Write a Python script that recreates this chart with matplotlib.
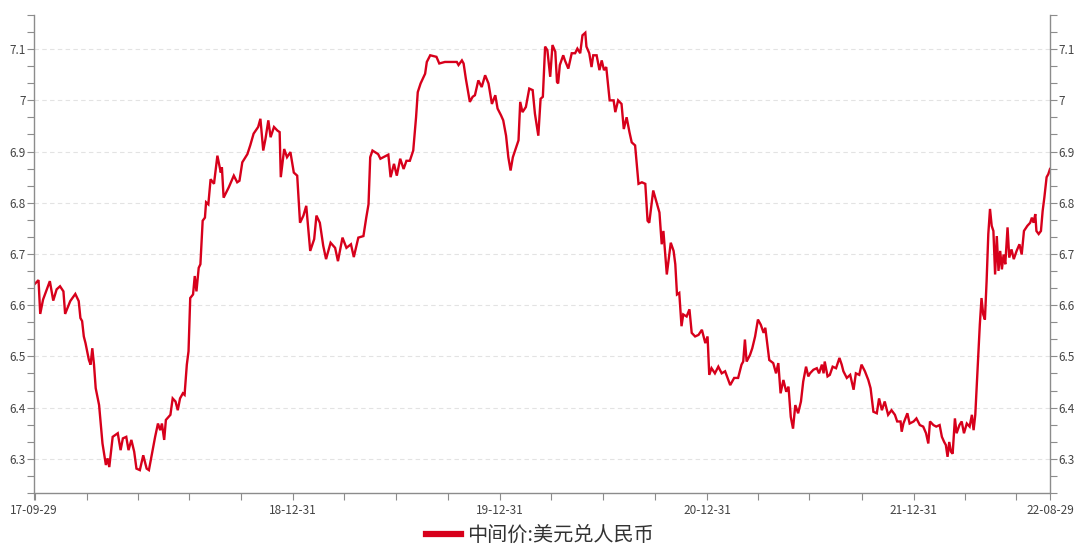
import pandas as pd
import numpy as np
import matplotlib
matplotlib.use("Agg")
import matplotlib.pyplot as plt
import matplotlib.dates as mdates
from matplotlib.ticker import MultipleLocator, FuncFormatter, FixedLocator

plt.rcParams['font.family'] = ['Noto Sans CJK SC', 'DejaVu Sans']

# series: days since the first date, and the rate
start_date = "2017-09-29"
end_date = "2022-08-29"
series_name = "中间价:美元兑人民币"

days = [
    0, 8, 11, 16, 28, 34, 40, 46, 52, 55, 64, 73, 79, 82, 85, 88, 91, 97, 100, 103,
    106, 109, 115, 121, 127, 130, 133, 136, 139, 148, 153, 157, 163, 167, 172, 177, 181, 187, 193, 199,
    203, 209, 214, 219, 223, 226, 230, 233, 241, 245, 250, 254, 258, 263, 266, 270, 273, 276, 281, 284,
    287, 291, 294, 298, 302, 304, 308, 312, 318, 324, 330, 332, 335, 344, 353, 359, 363, 368, 377, 382,
    388, 396, 400, 405, 409, 414, 418, 424, 430, 434, 436, 442, 447, 453, 459, 465,
    470, 476, 481, 488, 495, 499, 505, 511, 516, 524, 532, 537, 545, 552, 560, 565, 573, 582, 587, 591,
    594, 598, 608, 612, 626, 630, 636, 641, 647, 653, 658, 664, 670, 675, 678, 683, 691, 694, 700, 711,
    716, 726, 747, 750, 756, 759, 763, 770, 775, 779, 785, 791, 797, 803, 809, 815, 819, 825, 829, 834,
    838, 842, 846, 856, 859, 863, 869, 875, 881, 885, 891, 895, 899, 903, 907,
    912, 916, 921, 924, 926, 929, 935, 938, 944, 950, 956, 960, 965, 969, 974, 976, 981, 985, 988, 994,
    999, 1003, 1007, 1011, 1017, 1024, 1027, 1032, 1038, 1042, 1047, 1052, 1056, 1062, 1068, 1074, 1080, 1084, 1087, 1094,
    1105, 1109, 1112, 1118, 1125, 1130, 1133, 1136, 1140, 1144, 1147, 1153, 1158, 1162, 1168, 1174, 1180, 1186, 1190, 1193,
    1197, 1203, 1209, 1215, 1221, 1230, 1237, 1244, 1250, 1253, 1256, 1259, 1265, 1269, 1274, 1279, 1284, 1289, 1292, 1295,
    1299, 1306, 1311, 1315, 1319, 1324, 1329, 1333, 1337, 1341, 1345, 1350, 1355, 1359, 1364, 1368,
    1371, 1377, 1383, 1387, 1392, 1395, 1397, 1402, 1406, 1411, 1417, 1423, 1427, 1430, 1436, 1442, 1448, 1452, 1458, 1462,
    1468, 1474, 1478, 1483, 1489, 1493, 1498, 1503, 1509, 1515, 1521, 1525, 1531, 1533, 1536, 1543, 1547, 1554, 1559, 1565,
    1571, 1576, 1580, 1583, 1589, 1594, 1600, 1604, 1608, 1611, 1614, 1617, 1620, 1623, 1627, 1630, 1635, 1639, 1643, 1648,
    1653, 1657, 1660, 1663, 1665, 1668, 1671, 1674, 1677, 1680, 1683, 1686, 1689, 1692, 1695, 1698, 1701, 1704, 1707, 1710,
    1713, 1716, 1720, 1723, 1727, 1731, 1736, 1741, 1745, 1749, 1755, 1760, 1763, 1766, 1769, 1771, 1775, 1779, 1782, 1785,
    1789, 1792, 1795,
]

rates = [
    6.640, 6.649, 6.583, 6.611, 6.647, 6.609, 6.631, 6.637, 6.627, 6.583, 6.608, 6.622, 6.608, 6.575, 6.569, 6.539, 6.526, 6.493, 6.484, 6.516,
    6.484, 6.438, 6.405, 6.330, 6.288, 6.301, 6.284, 6.314, 6.343, 6.350, 6.317, 6.340, 6.343, 6.317, 6.337, 6.314, 6.281, 6.278, 6.307, 6.281,
    6.278, 6.314, 6.343, 6.369, 6.356, 6.369, 6.337, 6.376, 6.386, 6.418, 6.412, 6.395, 6.418, 6.428, 6.425, 6.484, 6.510, 6.614, 6.621, 6.657,
    6.627, 6.673, 6.680, 6.765, 6.771, 6.801, 6.797, 6.846, 6.837, 6.892, 6.859, 6.869, 6.810, 6.830, 6.853, 6.840, 6.843, 6.879, 6.895, 6.912,
    6.935, 6.948, 6.964, 6.902, 6.925, 6.961, 6.928, 6.948, 6.941, 6.938, 6.850, 6.905, 6.889, 6.899, 6.859, 6.853,
    6.761, 6.775, 6.794, 6.706, 6.729, 6.775, 6.761, 6.716, 6.690, 6.722, 6.712, 6.686, 6.732, 6.712, 6.719, 6.694, 6.732, 6.735, 6.771, 6.797,
    6.889, 6.902, 6.895, 6.886, 6.894, 6.850, 6.876, 6.853, 6.886, 6.866, 6.882, 6.882, 6.902, 6.967, 7.016, 7.033, 7.052, 7.075, 7.088, 7.085,
    7.072, 7.075, 7.075, 7.069, 7.078, 7.072, 7.042, 6.997, 7.007, 7.010, 7.039, 7.026, 7.049, 7.033, 6.993, 7.010, 6.984, 6.971, 6.961, 6.931,
    6.889, 6.863, 6.889, 6.922, 6.997, 6.977, 6.987, 7.023, 7.020, 6.974, 6.931, 7.003, 7.007, 7.105, 7.098,
    7.046, 7.108, 7.095, 7.036, 7.033, 7.069, 7.088, 7.078, 7.062, 7.092, 7.092, 7.101, 7.092, 7.127, 7.132, 7.105, 7.092, 7.065, 7.088, 7.088,
    7.059, 7.078, 7.059, 7.065, 7.000, 7.000, 6.977, 7.000, 6.993, 6.944, 6.967, 6.938, 6.918, 6.912, 6.837, 6.840, 6.837, 6.765, 6.761, 6.824,
    6.781, 6.719, 6.745, 6.660, 6.722, 6.706, 6.680, 6.621, 6.624, 6.559, 6.582, 6.578, 6.592, 6.546, 6.539, 6.542, 6.552, 6.526, 6.539, 6.464,
    6.477, 6.467, 6.480, 6.467, 6.471, 6.444, 6.458, 6.458, 6.484, 6.490, 6.533, 6.490, 6.503, 6.516, 6.539, 6.572, 6.562, 6.546, 6.556, 6.529,
    6.493, 6.487, 6.467, 6.487, 6.428, 6.454, 6.431, 6.441, 6.382, 6.359, 6.405, 6.389, 6.412, 6.451, 6.480, 6.461,
    6.467, 6.474, 6.477, 6.467, 6.484, 6.467, 6.490, 6.461, 6.464, 6.480, 6.477, 6.497, 6.484, 6.471, 6.458, 6.464, 6.435, 6.467, 6.464, 6.484,
    6.471, 6.454, 6.438, 6.392, 6.389, 6.418, 6.395, 6.412, 6.386, 6.395, 6.386, 6.373, 6.373, 6.353, 6.369, 6.389, 6.369, 6.373, 6.379, 6.366,
    6.363, 6.350, 6.330, 6.373, 6.366, 6.363, 6.366, 6.343, 6.333, 6.327, 6.304, 6.333, 6.314, 6.310, 6.379, 6.350, 6.366, 6.373, 6.350, 6.369,
    6.363, 6.386, 6.356, 6.386, 6.431, 6.497, 6.562, 6.614, 6.582, 6.572, 6.647, 6.739, 6.788, 6.755, 6.745, 6.660, 6.735, 6.667, 6.706, 6.670,
    6.699, 6.680, 6.752, 6.693, 6.709, 6.690, 6.706, 6.719, 6.699, 6.745, 6.755, 6.761, 6.771, 6.761, 6.778, 6.745, 6.739, 6.745, 6.784, 6.810,
    6.850, 6.856, 6.866,
]

labelled_dates = ["2017-09-29", "2018-12-31", "2019-12-31", "2020-12-31", "2021-12-31", "2022-08-29"]

dates = pd.Timestamp(start_date) + pd.to_timedelta(days, unit="D")

red = "#d7001b"
axis_grey = "#8c8c8c"
text_grey = "#444444"

fig = plt.figure(figsize=(10.8, 5.5), dpi=100)
ax = fig.add_axes([34 / 1080, 1 - 493 / 550, 1016 / 1080, 478 / 550])

ax.plot(dates, rates, color=red, lw=1.7, label=series_name, solid_joinstyle="miter")

ax.set_xlim(pd.Timestamp(start_date), pd.Timestamp(end_date))
ax.set_ylim(6.3 - 2 / 30, 7.1 + 2 / 30)

# y axis: labels on both sides, minor ticks every 1/30
ax.yaxis.set_major_locator(MultipleLocator(0.1))
ax.yaxis.set_minor_locator(MultipleLocator(1 / 30))
ax.yaxis.set_major_formatter(FuncFormatter(lambda v, p: f"{v:g}"))
ax.tick_params(axis="y", which="both", left=True, right=True, labelleft=True, labelright=True,
               direction="out", length=5, width=0.8, color=axis_grey, labelsize=8.5,
               labelcolor=text_grey, pad=1)
ax.grid(axis="y", which="major", color="#e3e3e3", linestyle=(0, (4, 3)), lw=0.8)
ax.set_axisbelow(True)

# x axis: quarterly minor ticks, labelled ends of year
quarter_ticks = pd.date_range(start_date, end_date, freq="QE")
ax.xaxis.set_minor_locator(FixedLocator(mdates.date2num(quarter_ticks)))
ax.xaxis.set_major_locator(FixedLocator(mdates.date2num(pd.to_datetime(labelled_dates))))
ax.xaxis.set_major_formatter(mdates.DateFormatter("%y-%m-%d"))
ax.tick_params(axis="x", which="both", direction="out", length=5, width=0.8, color=axis_grey,
               labelsize=8.5, labelcolor=text_grey, pad=3)

for side in ["left", "right", "bottom"]:
    ax.spines[side].set_color(axis_grey)
    ax.spines[side].set_linewidth(1.0)
ax.spines["top"].set_visible(False)

leg = fig.legend(loc="center", bbox_to_anchor=(0.5, 0.027), frameon=False, fontsize=14.5,
                 handlelength=1.75, handletextpad=0.3, borderpad=0)
for h in leg.get_lines():
    h.set_linewidth(4.5)
for t in leg.get_texts():
    t.set_color("#333333")

fig.savefig("out.png", dpi=100)
